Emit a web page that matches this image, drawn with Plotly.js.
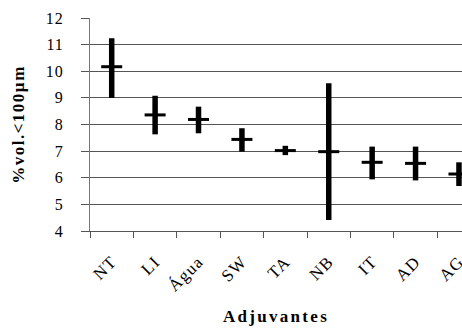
<!DOCTYPE html>
<html>
<head>
<meta charset="utf-8">
<script src="https://cdn.plot.ly/plotly-3.0.1.min.js"></script>
<style>html,body{margin:0;padding:0;overflow:hidden;background:#fff;}</style>
</head>
<body>
<div id="chart"></div>
<script>
const categories = ["NT", "LI", "Água", "SW", "TA", "NB", "IT", "AD", "AG"];
const meanValues = [10.17, 8.36, 8.19, 7.44, 7.02, 6.98, 6.58, 6.54, 6.14];
const upperValues = [11.24, 9.08, 8.67, 7.86, 7.20, 9.55, 7.17, 7.17, 6.58];
const lowerValues = [9.00, 7.63, 7.67, 6.98, 6.85, 4.41, 5.94, 5.90, 5.69];
const yTicks = [4, 5, 6, 7, 8, 9, 10, 11, 12];

const errPlus = upperValues.map((u, i) => u - meanValues[i]);
const errMinus = lowerValues.map((l, i) => meanValues[i] - l);

const serif = "Liberation Serif, Times New Roman, serif";

const trace = {
  type: "scatter",
  mode: "markers",
  x: categories,
  y: meanValues,
  marker: { symbol: "line-ew", size: 15, color: "#000", line: { color: "#000", width: 3 } },
  error_y: {
    type: "data",
    symmetric: false,
    array: errPlus,
    arrayminus: errMinus,
    color: "#000",
    thickness: 5.5,
    width: 0
  },
  cliponaxis: false,
  hoverinfo: "skip"
};

const layout = {
  width: 462,
  height: 333,
  margin: { l: 90, r: 0, t: 18, b: 102 },
  paper_bgcolor: "#fff",
  plot_bgcolor: "#fff",
  showlegend: false,
  font: { family: serif, color: "#000", size: 14 },
  xaxis: {
    type: "category",
    range: [-0.5, 8.07],
    tickson: "boundaries",
    ticks: "outside",
    ticklen: 6,
    tickcolor: "#555",
    tickangle: -45,
    showgrid: false,
    showline: true,
    linecolor: "#555",
    linewidth: 1,
    ticklabelstandoff: 13,
    tickfont: { family: serif, size: 17, color: "#000" },
    title: { text: "Adjuvantes", font: { family: serif, size: 17, color: "#000", weight: "bold" }, standoff: 19 }
  },
  yaxis: {
    range: [4, 12],
    tickvals: yTicks,
    ticks: "outside",
    ticklen: 8,
    tickcolor: "#555",
    showgrid: true,
    gridcolor: "#555",
    gridwidth: 1,
    zeroline: false,
    showline: true,
    linecolor: "#777",
    linewidth: 1,
    ticklabelstandoff: 14,
    tickfont: { family: serif, size: 16, color: "#000" },
    title: { text: "%vol.<100µm", font: { family: serif, size: 17, color: "#000", weight: "bold" }, standoff: 18 }
  }
};

Plotly.newPlot("chart", [trace], layout, { displayModeBar: false, staticPlot: true }).then(function (gd) {
  gd.querySelectorAll(".xtick text").forEach(function (t) { t.style.letterSpacing = "1.2px"; });
  gd.querySelectorAll(".ytick text").forEach(function (t) { t.style.letterSpacing = "1px"; });
  const xt = gd.querySelector(".xtitle");
  if (xt) xt.style.letterSpacing = "2.3px";
  const yt = gd.querySelector(".ytitle");
  if (yt) yt.style.letterSpacing = "1.5px";
});
</script>
</body>
</html>
